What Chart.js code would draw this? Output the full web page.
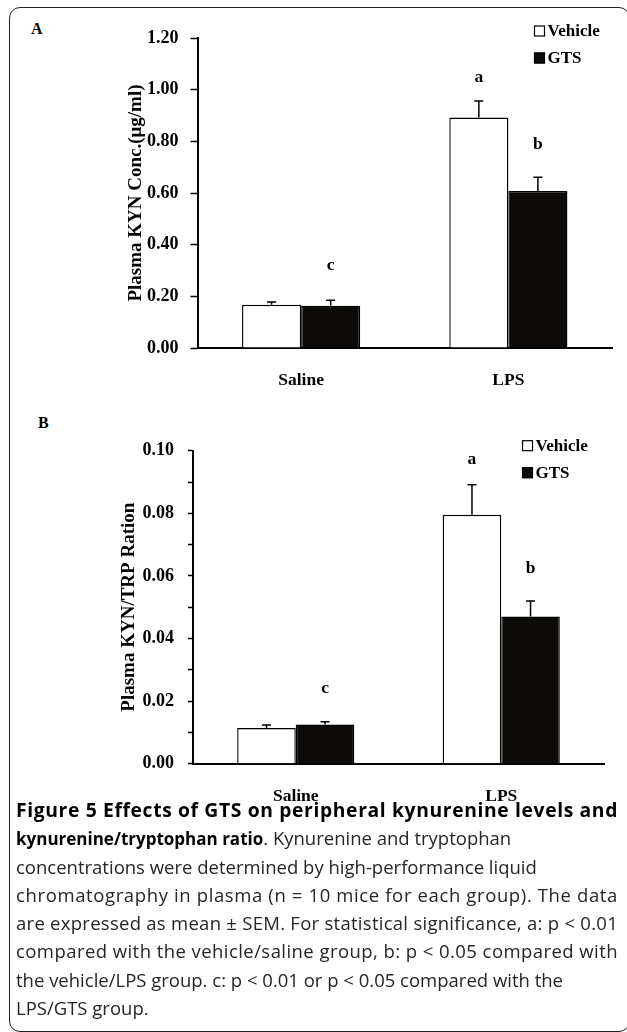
<!DOCTYPE html>
<html><head><meta charset="utf-8">
<script src="https://cdn.jsdelivr.net/npm/chart.js@4.4.1/dist/chart.umd.min.js"></script>
<style>
html,body{margin:0;padding:0;background:#fff;}
body{width:627px;height:1032px;overflow:hidden;position:relative}
#frame{position:absolute;left:9px;top:7px;width:621px;height:1025px;border:1.5px solid #222;border-radius:11px;box-sizing:border-box}
canvas{position:absolute;left:0}
#ca{top:0}
#cb{top:400px}
.pl{position:absolute;font:bold 16px "Liberation Serif";line-height:16px;color:#000}
#cap{position:absolute;left:16px;top:796px;font-family:"Open Sans";font-size:18.5px;line-height:28.3px;color:#262626}
#cap div{white-space:nowrap;height:28.3px}
#cap div span{display:inline-block;white-space:nowrap}
#cap b{color:#000;font-weight:bold;font-size:17px}
#cap div.t b{font-size:19.3px}
</style></head>
<body>
<div id="frame"></div>
<div class="pl" style="left:31px;top:21px">A</div>
<div class="pl" style="left:38px;top:415px">B</div>
<canvas id="ca" width="627" height="400"></canvas>
<canvas id="cb" width="627" height="420"></canvas>
<div id="cap">
<div class="t"><span class="j"><b>Figure 5 Effects of GTS on peripheral kynurenine levels and</b></span></div>
<div><span><b>kynurenine/tryptophan ratio</b>. Kynurenine and tryptophan</span></div>
<div><span>concentrations were determined by high-performance liquid</span></div>
<div><span class="j">chromatography in plasma (n = 10 mice for each group). The data</span></div>
<div><span class="j">are expressed as mean ± SEM. For statistical significance, a: p &lt; 0.01</span></div>
<div><span class="j">compared with the vehicle/saline group, b: p &lt; 0.05 compared with</span></div>
<div><span>the vehicle/LPS group. c: p &lt; 0.01 or p &lt; 0.05 compared with the</span></div>
<div><span>LPS/GTS group.</span></div>
</div>
<script>
// ---- data ----
const categories = ['Saline', 'LPS'];
const seriesNames = ['Vehicle', 'GTS'];

// Panel A: Plasma KYN concentration (µg/ml)
const kynVehicle = [0.167, 0.892];
const kynVehicleSEM = [0.011, 0.064];
const kynGTS = [0.164, 0.608];
const kynGTSSEM = [0.021, 0.053];
const kynVehicleLetters = ['', 'a'];
const kynVehicleLetterAt = [null, 1.048];
const kynGTSLetters = ['c', 'b'];
const kynGTSLetterAt = [0.321, 0.786];
const kynTickLabels = ['0.00', '0.20', '0.40', '0.60', '0.80', '1.00', '1.20'];

// Panel B: Plasma KYN/TRP ratio
const ratioVehicle = [0.0114, 0.0795];
const ratioVehicleSEM = [0.0010, 0.0096];
const ratioGTS = [0.0125, 0.0470];
const ratioGTSSEM = [0.0009, 0.0050];
const ratioVehicleLetters = ['', 'a'];
const ratioVehicleLetterAt = [null, 0.0973];
const ratioGTSLetters = ['c', 'b'];
const ratioGTSLetterAt = [0.0239, 0.0625];
const ratioTickLabels = ['0.00', '', '0.02', '', '0.04', '', '0.06', '', '0.08', '', '0.10'];

// ---- caption justification (spread letters to the full line width) ----
document.querySelectorAll('#cap span.j').forEach(s => {
  const w = s.getBoundingClientRect().width;
  const n = s.textContent.length;
  s.style.letterSpacing = Math.max(0, (602 - w) / n) + 'px';
});

// ---- drawing ----
Chart.defaults.font.family = '"Liberation Serif", "Times New Roman", serif';
Chart.defaults.font.weight = 'bold';
Chart.defaults.font.size = 17;
Chart.defaults.color = '#000';

const decor = {
  id: 'decor',
  afterDatasetsDraw(chart, args, opts) {
    const ctx = chart.ctx, ys = chart.scales.y, ca = chart.chartArea;
    chart.data.datasets.forEach((ds, di) => {
      const meta = chart.getDatasetMeta(di);
      meta.data.forEach((bar, i) => {
        const top = ys.getPixelForValue(ds.data[i] + ds.sem[i]);
        ctx.save();
        ctx.strokeStyle = '#000'; ctx.lineWidth = 1.5;
        ctx.beginPath();
        ctx.moveTo(bar.x, bar.y); ctx.lineTo(bar.x, top);
        ctx.moveTo(bar.x - 4.5, top); ctx.lineTo(bar.x + 4.5, top);
        ctx.stroke();
        const L = ds.letters[i];
        if (L) {
          ctx.font = 'bold 17.5px "Liberation Serif"';
          ctx.textAlign = 'center'; ctx.textBaseline = 'middle'; ctx.fillStyle = '#000';
          ctx.fillText(L, bar.x, ys.getPixelForValue(ds.letterAt[i]));
        }
        ctx.restore();
      });
    });
    // legend
    ctx.save();
    chart.data.datasets.forEach((ds, di) => {
      const sx = ca.right + opts.dx, cy = ca.top + opts.dy + di * opts.row;
      ctx.fillStyle = ds.backgroundColor;
      ctx.fillRect(sx, cy - 5.5, 11, 11);
      ctx.strokeStyle = '#000'; ctx.lineWidth = 1.2;
      ctx.strokeRect(sx + 0.5, cy - 5, 10, 10);
      ctx.fillStyle = '#000';
      ctx.font = 'bold 17px "Liberation Serif"';
      ctx.textAlign = 'left'; ctx.textBaseline = 'middle';
      ctx.fillText(ds.label, sx + 13.5, cy + 1);
    });
    ctx.restore();
  }
};

function makeChart(id, cfg) {
  const datasets = [
    {label: seriesNames[0], data: cfg.v, sem: cfg.vs, letters: cfg.vl, letterAt: cfg.va,
     backgroundColor: '#ffffff', borderColor: '#000', borderWidth: 1.4},
    {label: seriesNames[1], data: cfg.g, sem: cfg.gs, letters: cfg.gl, letterAt: cfg.ga,
     backgroundColor: '#0d0b08', borderColor: '#000', borderWidth: 1.4}
  ];
  datasets.forEach(d => { d.categoryPercentage = 0.57; d.barPercentage = 1.0; });
  return new Chart(document.getElementById(id), {
    type: 'bar',
    data: {labels: categories, datasets},
    options: {
      responsive: false, animation: false, devicePixelRatio: 1,
      layout: {padding: {top: cfg.padTop, right: cfg.padRight, left: 0, bottom: 0}},
      plugins: {legend: {display: false}, tooltip: {enabled: false}, decor: cfg.legend},
      scales: {
        x: {
          grid: {display: false, drawTicks: false},
          border: {color: '#000', width: 2},
          ticks: {padding: 22, font: {size: 17.5, weight: 'bold'}, color: '#000'},
          afterFit(s) { s.height = cfg.xH; }
        },
        y: {
          min: 0, max: cfg.max,
          ticks: {stepSize: cfg.step, padding: cfg.tickPad, autoSkip: false,
                  callback: (v, i) => cfg.tickLabels[i], font: {size: 18, weight: 'bold'}, color: '#000'},
          grid: {drawOnChartArea: false, tickLength: cfg.tickLen, tickColor: '#000', tickWidth: 1.5},
          border: {color: '#000', width: 2},
          title: {display: true, text: cfg.title, padding: {top: cfg.titlePad, bottom: 0},
                  font: {size: 19, weight: 'bold'}, color: '#000'},
          afterFit(s) { s.width = cfg.yW; }
        }
      }
    },
    plugins: [decor]
  });
}

makeChart('ca', {
  v: kynVehicle, vs: kynVehicleSEM, vl: kynVehicleLetters, va: kynVehicleLetterAt,
  g: kynGTS, gs: kynGTSSEM, gl: kynGTSLetters, ga: kynGTSLetterAt,
  max: 1.2, step: 0.2, tickLabels: kynTickLabels, tickPad: 12, tickLen: 7,
  title: 'Plasma KYN Conc.(μg/ml)', titlePad: 125,
  padTop: 38, padRight: 15, yW: 197.5, xH: 52,
  legend: {dx: -78, dy: -7, row: 27}
});

makeChart('cb', {
  v: ratioVehicle, vs: ratioVehicleSEM, vl: ratioVehicleLetters, va: ratioVehicleLetterAt,
  g: ratioGTS, gs: ratioGTSSEM, gl: ratioGTSLetters, ga: ratioGTSLetterAt,
  max: 0.1, step: 0.01, tickLabels: ratioTickLabels, tickPad: 14, tickLen: 5,
  title: 'Plasma KYN/TRP Ration', titlePad: 118,
  padTop: 50.7, padRight: 23, yW: 193, xH: 56.3,
  legend: {dx: -82, dy: -5, row: 27}
});
</script>
</body></html>
